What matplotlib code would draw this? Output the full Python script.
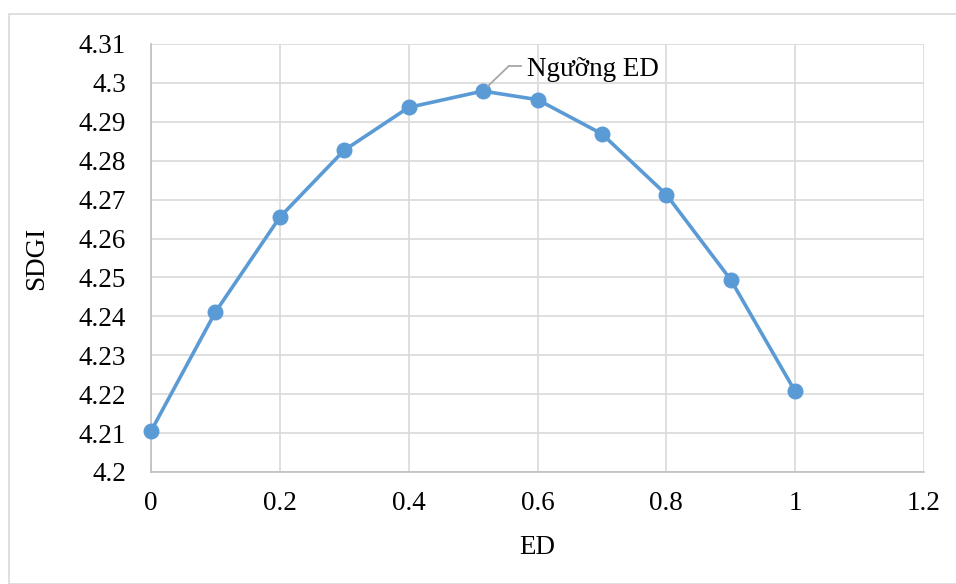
import matplotlib
matplotlib.use("Agg")
import matplotlib.pyplot as plt
from matplotlib.patches import Rectangle
from matplotlib.lines import Line2D

ed = [0, 0.1, 0.2, 0.3, 0.4, 0.515, 0.6, 0.7, 0.8, 0.9, 1.0]
sdgi = [4.2105, 4.2411, 4.2655, 4.2827, 4.2937, 4.2979, 4.2957, 4.2869, 4.2713, 4.2494, 4.2207]
x_ticks = [0, 0.2, 0.4, 0.6, 0.8, 1.0, 1.2]
x_tick_labels = ["0", "0.2", "0.4", "0.6", "0.8", "1", "1.2"]
y_ticks = [4.2, 4.21, 4.22, 4.23, 4.24, 4.25, 4.26, 4.27, 4.28, 4.29, 4.3, 4.31]
y_tick_labels = ["4.2", "4.21", "4.22", "4.23", "4.24", "4.25", "4.26", "4.27", "4.28", "4.29", "4.3", "4.31"]
annot_text = "Ngưỡng ED"
annot_index = 5

plt.rcParams['font.family'] = ['Liberation Serif', 'DejaVu Serif']

W, H = 956, 584
fig = plt.figure(figsize=(W / 100, H / 100), dpi=100)
fig.patches.append(Rectangle((9 / W, 0), (W - 9) / W + 0.01, (H - 14) / H,
                             transform=fig.transFigure, fill=False,
                             edgecolor="#D9D9D9", linewidth=1.2))

ax = fig.add_axes([151 / W, 1 - 472 / H, (924 - 151) / W, (472 - 44) / H])
ax.set_xlim(0, 1.2)
ax.set_ylim(4.2, 4.31)
ax.set_xticks(x_ticks)
ax.set_xticklabels(x_tick_labels)
ax.set_yticks(y_ticks)
ax.set_yticklabels(y_tick_labels)
ax.grid(True, color="#D9D9D9", linewidth=1.2)
ax.set_axisbelow(True)
for s in ["top", "right"]:
    ax.spines[s].set_visible(False)
for s in ["left", "bottom"]:
    ax.spines[s].set_color("#BFBFBF")
    ax.spines[s].set_linewidth(1.2)
ax.tick_params(length=0, labelsize=19.5)
ax.tick_params(axis="x", pad=14)
ax.tick_params(axis="y", pad=18)

ax.plot(ed, sdgi, color="#5B9BD5", linewidth=2.6, marker="o", markersize=10.5,
        zorder=3, clip_on=False)

ax.set_xlabel("ED", fontsize=19.5, labelpad=13)
ax.set_ylabel("SDGI", fontsize=19.5, labelpad=21)

# leader line and label
ax.annotate("", xy=(ed[annot_index], sdgi[annot_index]), xytext=(26, 25),
            textcoords="offset pixels",
            arrowprops=dict(arrowstyle="-", color="#A6A6A6", lw=1.3,
                            shrinkA=0, shrinkB=5))
ax.annotate(annot_text, xy=(ed[annot_index], sdgi[annot_index]), xytext=(44, 22),
            textcoords="offset pixels", fontsize=19.5, va="center", ha="left")
fig.canvas.draw()
px, py = ax.transData.transform((ed[annot_index], sdgi[annot_index]))
fig.add_artist(Line2D([(px + 26) / W, (px + 38) / W], [(py + 25) / H, (py + 25) / H],
                      color="#A6A6A6", lw=1.3, transform=fig.transFigure))

fig.savefig("out.png", dpi=100)
